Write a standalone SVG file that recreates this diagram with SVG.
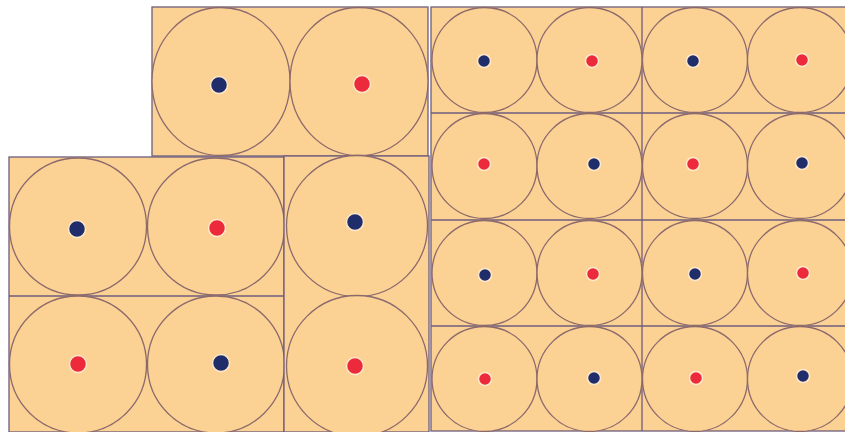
<svg xmlns="http://www.w3.org/2000/svg" width="845" height="432" viewBox="0 0 845 432">
<style>
.cell{fill:#FCD194;stroke:#6E5C7C;stroke-width:1.3}
.ring{fill:#FCD194;stroke:#8C6A6C;stroke-width:1.3}
.b{fill:#1F2E6B;stroke:#FFE9CC;stroke-width:1.5}
.r{fill:#EC2A3C;stroke:#FFE9CC;stroke-width:1.5}
.div{stroke:#6E5C7C;stroke-width:1.3;fill:none}
</style>
<rect width="845" height="432" fill="#FFFFFF"/>
<g id="top-block">
<rect class="cell" x="152" y="7" width="276" height="149"/>
<ellipse class="ring" cx="221" cy="81.5" rx="69" ry="74"/>
<ellipse class="ring" cx="359" cy="81.5" rx="69" ry="74"/>
<circle class="b" cx="219" cy="85" r="8.5"/>
<circle class="r" cx="362" cy="84" r="8.5"/>
</g>
<g id="left-block">
<rect class="cell" x="9" y="157" width="275" height="275"/>
<line class="div" x1="9" y1="296" x2="284" y2="296"/>
<circle class="ring" cx="78" cy="226.5" r="68.5"/>
<circle class="ring" cx="216" cy="226.5" r="68.5"/>
<circle class="ring" cx="78" cy="364.5" r="68.5"/>
<circle class="ring" cx="216" cy="364.5" r="68.5"/>
<circle class="b" cx="77" cy="229" r="8.5"/>
<circle class="r" cx="217" cy="228" r="8.5"/>
<circle class="r" cx="78" cy="364" r="8.5"/>
<circle class="b" cx="221" cy="363" r="8.5"/>
</g>
<g id="middle-column">
<rect class="cell" x="284" y="156" width="145" height="276"/>
<circle class="ring" cx="357" cy="226" r="70.5"/>
<circle class="ring" cx="357" cy="366" r="70.5"/>
<circle class="b" cx="355" cy="222" r="8.5"/>
<circle class="r" cx="355" cy="366" r="8.5"/>
</g>
<g id="right-grid">
<rect class="cell" x="431" y="7" width="430" height="424"/>
<line class="div" x1="642" y1="7" x2="642" y2="431"/>
<line class="div" x1="431" y1="113" x2="861" y2="113"/>
<line class="div" x1="431" y1="220" x2="861" y2="220"/>
<line class="div" x1="431" y1="326" x2="861" y2="326"/>
<circle class="ring" cx="484.5" cy="60" r="52.5"/>
<circle class="ring" cx="589.5" cy="60" r="52.5"/>
<circle class="ring" cx="695" cy="60" r="52.5"/>
<circle class="ring" cx="800" cy="60" r="52.5"/>
<circle class="ring" cx="484.5" cy="166" r="52.5"/>
<circle class="ring" cx="589.5" cy="166" r="52.5"/>
<circle class="ring" cx="695" cy="166" r="52.5"/>
<circle class="ring" cx="800" cy="166" r="52.5"/>
<circle class="ring" cx="484.5" cy="273" r="52.5"/>
<circle class="ring" cx="589.5" cy="273" r="52.5"/>
<circle class="ring" cx="695" cy="273" r="52.5"/>
<circle class="ring" cx="800" cy="273" r="52.5"/>
<circle class="ring" cx="484.5" cy="379" r="52.5"/>
<circle class="ring" cx="589.5" cy="379" r="52.5"/>
<circle class="ring" cx="695" cy="379" r="52.5"/>
<circle class="ring" cx="800" cy="379" r="52.5"/>
<circle class="b" cx="484" cy="61" r="6.5"/>
<circle class="r" cx="592" cy="61" r="6.5"/>
<circle class="b" cx="693" cy="61" r="6.5"/>
<circle class="r" cx="802" cy="60" r="6.5"/>
<circle class="r" cx="484" cy="164" r="6.5"/>
<circle class="b" cx="594" cy="164" r="6.5"/>
<circle class="r" cx="693" cy="164" r="6.5"/>
<circle class="b" cx="802" cy="163" r="6.5"/>
<circle class="b" cx="485" cy="275" r="6.5"/>
<circle class="r" cx="593" cy="274" r="6.5"/>
<circle class="b" cx="695" cy="274" r="6.5"/>
<circle class="r" cx="803" cy="273" r="6.5"/>
<circle class="r" cx="485" cy="379" r="6.5"/>
<circle class="b" cx="594" cy="378" r="6.5"/>
<circle class="r" cx="696" cy="378" r="6.5"/>
<circle class="b" cx="803" cy="376" r="6.5"/>
</g>
</svg>
